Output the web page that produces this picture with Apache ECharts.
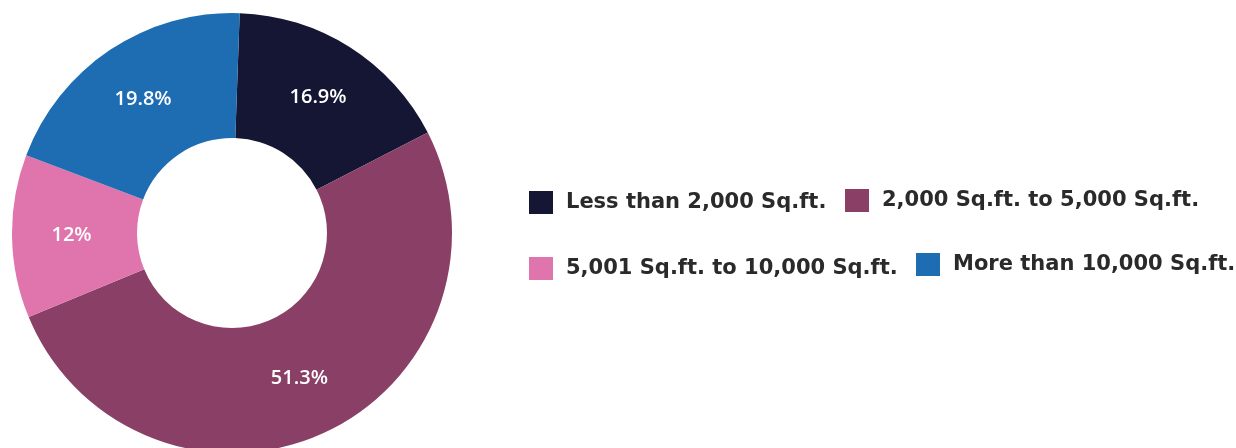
<!DOCTYPE html>
<html>
<head>
<meta charset="utf-8">
<script src="https://cdn.jsdelivr.net/npm/echarts@6/dist/echarts.min.js"></script>
<style>
html,body{margin:0;padding:0;background:#fff;}
#chart{width:1236px;height:448px;}
</style>
</head>
<body>
<div id="chart"></div>
<script>
const categories = ['Less than 2,000 Sq.ft.', '2,000 Sq.ft. to 5,000 Sq.ft.', '5,001 Sq.ft. to 10,000 Sq.ft.', 'More than 10,000 Sq.ft.'];
const shares = [16.9, 51.3, 12, 19.8];
const colors = ['#151634', '#8a4066', '#e074ad', '#1e6db3'];

const legendPos = [
  {left: 529, top: 191},
  {left: 845, top: 189},
  {left: 529, top: 257},
  {left: 916, top: 253}
];

const chart = echarts.init(document.getElementById('chart'));
chart.setOption({
  animation: false,
  color: colors,
  legend: categories.map((c, i) => ({
    data: [c],
    left: legendPos[i].left,
    top: legendPos[i].top,
    padding: 0,
    icon: 'rect',
    itemWidth: 24,
    itemHeight: 23,
    selectedMode: false,
    textStyle: {
      fontFamily: 'DejaVu Sans',
      fontWeight: 'bold',
      fontSize: 21,
      color: '#2a2a2a',
      padding: [0, 0, 0, 8]
    }
  })),
  series: [{
    type: 'pie',
    center: [232, 233],
    radius: [95, 220],
    startAngle: 88,
    clockwise: true,
    avoidLabelOverlap: false,
    label: {
      show: true,
      position: 'inside',
      formatter: '{c}%',
      color: '#ffffff',
      fontFamily: 'Open Sans',
      fontWeight: 600,
      fontSize: 20
    },
    labelLine: {show: false},
    itemStyle: {borderWidth: 0},
    emphasis: {disabled: true},
    data: categories.map((c, i) => ({name: c, value: shares[i]}))
  }]
});
</script>
</body>
</html>
